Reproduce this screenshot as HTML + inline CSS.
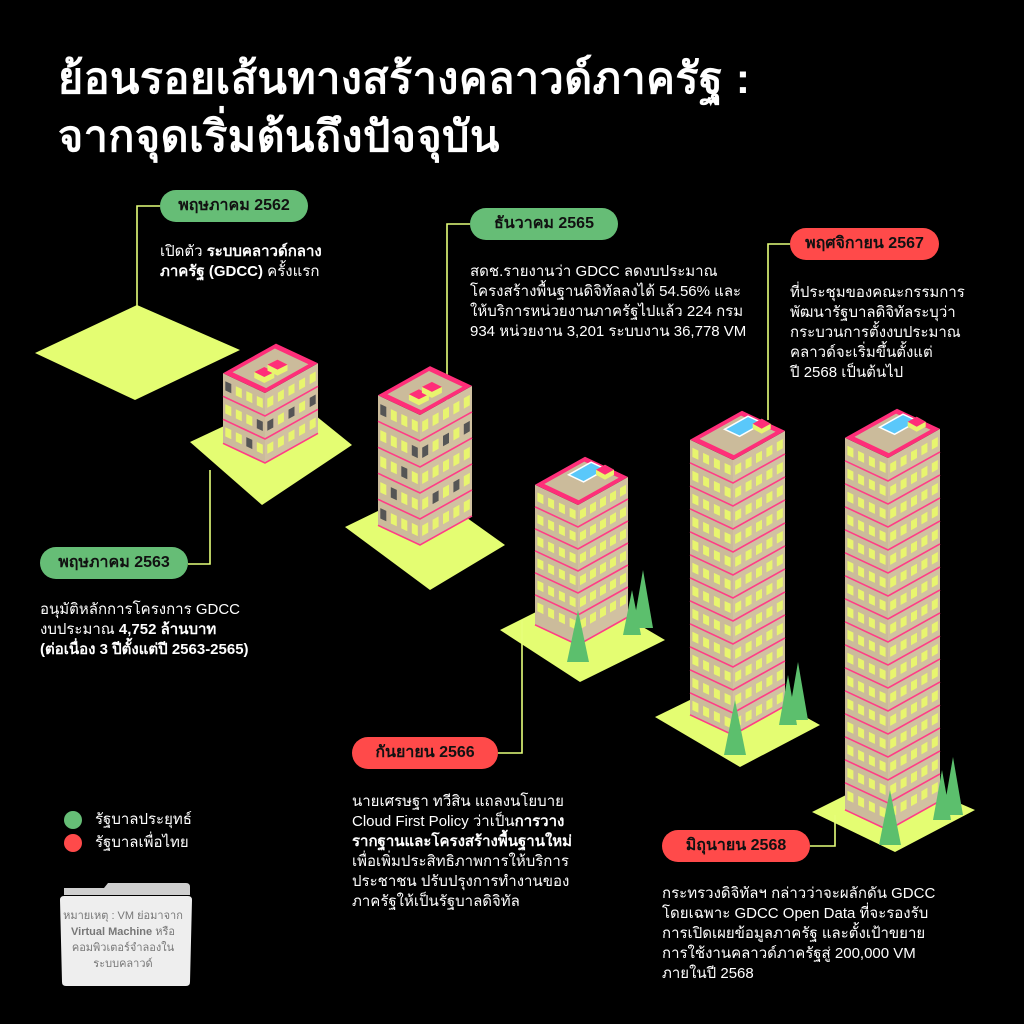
<!DOCTYPE html>
<html><head><meta charset="utf-8">
<style>
body{margin:0;background:#000;width:1024px;height:1024px;overflow:hidden;position:relative;font-family:"Liberation Sans","Noto Sans CJK SC",sans-serif;color:#fff}
svg{position:absolute;left:0;top:0}
.t{position:absolute;font-size:15px;line-height:20px;color:#fff;white-space:nowrap}
.pill{position:absolute;height:32px;border-radius:16px;color:#111;font-weight:bold;font-size:16px;line-height:32px;text-align:center}
.g{background:#66bd76}.r{background:#ff4a4a}
h1{position:absolute;left:58px;top:50px;margin:0;font-size:43px;line-height:58px;font-weight:bold;color:#fff;letter-spacing:0.5px}
</style></head><body>
<svg id="s" width="1024" height="1024" viewBox="0 0 1024 1024"></svg>
<h1>ย้อนรอยเส้นทางสร้างคลาวด์ภาครัฐ :<br>จากจุดเริ่มต้นถึงปัจจุบัน</h1>

<div class="pill g" style="left:160px;top:190px;width:148px">พฤษภาคม 2562</div>
<div class="pill g" style="left:470px;top:208px;width:148px">ธันวาคม 2565</div>
<div class="pill r" style="left:790px;top:228px;width:149px">พฤศจิกายน 2567</div>
<div class="pill g" style="left:40px;top:547px;width:148px">พฤษภาคม 2563</div>
<div class="pill r" style="left:352px;top:737px;width:146px">กันยายน 2566</div>
<div class="pill r" style="left:662px;top:830px;width:148px">มิถุนายน 2568</div>

<div class="t" style="left:160px;top:242px">เปิดตัว <b>ระบบคลาวด์กลาง</b><br><b>ภาครัฐ (GDCC)</b> ครั้งแรก</div>
<div class="t" style="left:470px;top:262px">สดช.รายงานว่า GDCC ลดงบประมาณ<br>โครงสร้างพื้นฐานดิจิทัลลงได้ 54.56% และ<br>ให้บริการหน่วยงานภาครัฐไปแล้ว 224 กรม<br>934 หน่วยงาน 3,201 ระบบงาน 36,778 VM</div>
<div class="t" style="left:790px;top:283px">ที่ประชุมของคณะกรรมการ<br>พัฒนารัฐบาลดิจิทัลระบุว่า<br>กระบวนการตั้งงบประมาณ<br>คลาวด์จะเริ่มขึ้นตั้งแต่<br>ปี 2568 เป็นต้นไป</div>
<div class="t" style="left:40px;top:600px">อนุมัติหลักการโครงการ GDCC<br>งบประมาณ <b>4,752 ล้านบาท</b><br><b>(ต่อเนื่อง 3 ปีตั้งแต่ปี 2563-2565)</b></div>
<div class="t" style="left:352px;top:792px">นายเศรษฐา ทวีสิน แถลงนโยบาย<br>Cloud First Policy ว่าเป็น<b>การวาง</b><br><b>รากฐานและโครงสร้างพื้นฐานใหม่</b><br>เพื่อเพิ่มประสิทธิภาพการให้บริการ<br>ประชาชน ปรับปรุงการทำงานของ<br>ภาครัฐให้เป็นรัฐบาลดิจิทัล</div>
<div class="t" style="left:662px;top:884px">กระทรวงดิจิทัลฯ กล่าวว่าจะผลักดัน GDCC<br>โดยเฉพาะ GDCC Open Data ที่จะรองรับ<br>การเปิดเผยข้อมูลภาครัฐ และตั้งเป้าขยาย<br>การใช้งานคลาวด์ภาครัฐสู่ 200,000 VM<br>ภายในปี 2568</div>

<div class="t" style="left:95px;top:810px">รัฐบาลประยุทธ์</div>
<div class="t" style="left:95px;top:833px">รัฐบาลเพื่อไทย</div>
<div class="t" style="left:58px;top:908px;width:130px;white-space:normal;text-align:center;color:#777;font-size:11px;line-height:16px">หมายเหตุ : VM ย่อมาจาก <b>Virtual Machine</b> หรือ คอมพิวเตอร์จำลองใน ระบบคลาวด์</div>

<script>
const s=document.getElementById('s');let h='';
const P=a=>a.map(p=>p[0].toFixed(1)+','+p[1].toFixed(1)).join(' ');
const poly=(a,f,extra='')=>h+=`<polygon points="${P(a)}" fill="${f}" ${extra}/>`;
const line=(pts)=>h+=`<polyline points="${P(pts)}" fill="none" stroke="#e6ff7a" stroke-width="1.6"/>`;
const G='#e4fd72';
h+=`<circle cx="73" cy="820" r="9" fill="#66bd76"/><circle cx="73" cy="843" r="9" fill="#ff4a4a"/>`;
h+=`<path d="M64 888 h40 l4 -5 h78 q4 0 4 4 v8 H64z" fill="#cfcfcf"/><path d="M60 900 q0-4 4-4 h124 q4 0 4 4 l-2 82 q0 4-4 4 H66 q-4 0-4-4z" fill="#eeeeee"/>`;
poly([[35,353],[137,305],[240,350],[135,400]],G);
poly([[190,442],[290,395],[352,445],[262,505]],G);
poly([[345,527],[425,488],[505,545],[430,590]],G);
poly([[500,630],[580,590],[665,640],[580,682]],G);
poly([[655,717],[735,678],[820,725],[740,767]],G);
poly([[812,812],[890,773],[975,810],[895,852]],G);
line([[137,310],[137,206],[160,206]]);
line([[210,470],[210,564],[188,564]]);
line([[447,500],[447,224],[470,224]]);
line([[522,620],[522,753],[498,753]]);
line([[768,420],[768,244],[790,244]]);
line([[835,815],[835,846],[810,846]]);
function tree(x,by,w,ht){poly([[x-w/2,by],[x,by-ht],[x+w/2,by]],'#5cbf6d');}
function bld(fx,ty,H,wl,wr,fh,pool,grey){
 const sl=0.47,sr=0.56;
 const F=[fx,ty],L=[fx-wl,ty-wl*sl],R=[fx+wr,ty-wr*sr],B=[L[0]+wr,L[1]-wr*sr];
 const d=(p,y)=>[p[0],p[1]+y];
 poly([L,F,d(F,H),d(L,H)],'#cbbb9b');
 poly([F,R,d(R,H),d(F,H)],'#d1c1a1');
 const n=Math.round(H/fh);
 for(let i=0;i<n;i++){
  const y0=i*fh;
  const nl=4, nr=5;
  for(let k=0;k<nl;k++){const t=(k+0.5)/nl*wl-3;const x=L[0]+t,y=L[1]+t*sl+y0+fh*0.3;
   const c=(grey&&(i*7+k*3)%4==0)?'#555':'#e8f56e';
   poly([[x,y],[x+6,y+6*sl],[x+6,y+6*sl+fh*0.4],[x,y+fh*0.4]],c);}
  for(let k=0;k<nr;k++){const t=(k+0.5)/nr*wr-3;const x=F[0]+t,y=F[1]-t*sr+y0+fh*0.3;
   const c=(grey&&(i*5+k*2)%4==1)?'#555':'#e8f56e';
   poly([[x,y],[x+6,y-6*sr],[x+6,y-6*sr+fh*0.4],[x,y+fh*0.4]],c);}
  if(i>0){h+=`<polyline points="${P([d(L,y0),d(F,y0),d(R,y0)])}" fill="none" stroke="#ff3d86" stroke-width="1.6"/>`;}
 }
 h+=`<polyline points="${P([d(L,H),d(F,H),d(R,H)])}" fill="none" stroke="#ff3d86" stroke-width="1.6"/>`;
 poly([F,R,B,L],'#ff2e79');
 const c=[(F[0]+B[0])/2,(F[1]+B[1])/2];const sh=(p,k)=>[c[0]+(p[0]-c[0])*k,c[1]+(p[1]-c[1])*k];
 poly([sh(F,.8),sh(R,.8),sh(B,.8),sh(L,.8)],'#cbbb9b');
 const m=(a,b,t)=>[a[0]+(b[0]-a[0])*t,a[1]+(b[1]-a[1])*t];
 if(pool){
  const a=m(sh(L,.6),sh(B,.6),.5);
  const pp=[[a[0],a[1]],[a[0]+wr*.45,a[1]-wr*.45*sr],[a[0]+wr*.45+wl*.35,a[1]-wr*.45*sr+wl*.35*sl],[a[0]+wl*.35,a[1]+wl*.35*sl]];
  poly(pp,'#5ac8fa','stroke="#fff" stroke-width="1.5"');
  const r0=m(sh(B,.7),sh(R,.7),.4);
  poly([[r0[0],r0[1]],[r0[0]+9,r0[1]-5],[r0[0]+18,r0[1]],[r0[0]+18,r0[1]+5],[r0[0]+9,r0[1]+10],[r0[0],r0[1]+5]],'#e8f56e');
  poly([[r0[0],r0[1]],[r0[0]+9,r0[1]-5],[r0[0]+18,r0[1]],[r0[0]+9,r0[1]+5]],'#ff2e79');
 }else{
  [[.35,.3],[.6,.55]].forEach(([u,v])=>{const r0=m(m(L,R,u),m(F,B,v),.5);
   const x=r0[0]-8,y=r0[1]-2;
   poly([[x,y],[x+10,y-5],[x+20,y],[x+20,y+6],[x+10,y+11],[x,y+6]],'#e8f56e');
   poly([[x,y],[x+10,y-5],[x+20,y],[x+10,y+5]],'#ff2e79');});
 }
}
bld(265,393,70,42,53,23,false,true);
bld(420,415,130,42,52,26,false,true);
bld(578,505,140,43,50,22,true,false);
tree(578,662,22,52);tree(632,635,18,45);tree(643,628,20,58);
bld(733,460,275,43,52,23,true,false);
tree(735,755,22,55);tree(788,725,18,50);tree(798,720,20,58);
bld(888,458,372,43,52,23,true,false);
tree(890,845,22,55);tree(942,820,18,50);tree(953,815,20,58);
s.innerHTML=h;
</script>
</body></html>
